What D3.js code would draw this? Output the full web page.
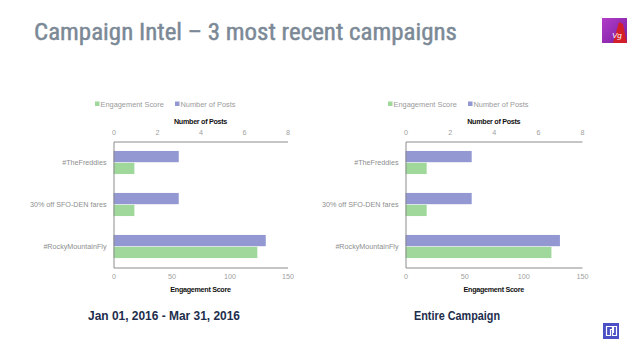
<!DOCTYPE html>
<html>
<head>
<meta charset="utf-8">
<script src="https://cdn.jsdelivr.net/npm/d3@7"></script>
<style>
  html, body { margin: 0; padding: 0; background: #ffffff; }
  svg { display: block; }
</style>
</head>
<body>
<svg id="chart" width="638" height="359"></svg>
<script>
// ---- Data ----
const categories = ["#TheFreddies", "30% off SFO-DEN fares", "#RockyMountainFly"];
const postsLeft = [3, 3, 7];
const engagementLeft = [18, 18, 124];
const postsRight = [3, 3, 7];
const engagementRight = [18, 18, 124];
const postsTicks = [0, 2, 4, 6, 8];
const engagementTicks = [0, 50, 100, 150];
const seriesNames = ["Engagement Score", "Number of Posts"];
const captions = ["Jan 01, 2016 - Mar 31, 2016", "Entire Campaign"];
const titleText = "Campaign Intel \u2013 3 most recent campaigns";

// ---- Styles ----
const BLUE = "#9398d3";
const GREEN = "#a0d89c";
const AXIS = "#8c8c8c";
const LABEL = "#a0a0a0";
const FONT = "'Liberation Sans', Arial, sans-serif";

const svg = d3.select("#chart");

// Title
svg.append("text")
  .attr("x", 34).attr("y", 40)
  .attr("font-family", "'Liberation Sans Narrow', 'Roboto Condensed', 'Liberation Sans', sans-serif")
  .attr("font-size", 24)
  .attr("fill", "#7b8996")
  .attr("stroke", "#7b8996").attr("stroke-width", 0.45)
  .attr("textLength", 423)
  .attr("lengthAdjust", "spacingAndGlyphs")
  .text(titleText);

// Top-right logo (Virgin-like)
const lg = svg.append("defs").append("linearGradient").attr("id", "vg")
  .attr("x1", "0").attr("y1", "0").attr("x2", "1").attr("y2", "1");
lg.append("stop").attr("offset", "0").attr("stop-color", "#b23cc9");
lg.append("stop").attr("offset", "1").attr("stop-color", "#7a1fa0");
svg.append("rect").attr("x", 602).attr("y", 18).attr("width", 25).attr("height", 25).attr("fill", "url(#vg)");
svg.append("path")
  .attr("d", "M613,43 L619,22 L623,24 L627,43 Z")
  .attr("fill", "#d21f2a");
svg.append("text").attr("x", 612).attr("y", 38).attr("font-family", FONT).attr("font-style", "italic")
  .attr("font-size", 8).attr("fill", "#ffffff").text("Vg");

// Bottom-right logo
svg.append("rect").attr("x", 603).attr("y", 323).attr("width", 16).attr("height", 16).attr("fill", "#4b4fc4");
svg.append("path")
  .attr("d", "M606.5,326.5 v9 h4 v-6 h2 v6 h4 v-9 h-3 v6 h-1 v-6 z")
  .attr("fill", "none").attr("stroke", "#ffffff").attr("stroke-width", 1.2);

function panel(opts) {
  const { x0, x1, y0, y1, posts, eng, caption, capX, capW, legX } = opts;
  const g = svg.append("g");

  const xPosts = d3.scaleLinear().domain([0, 8]).range([x0, x1]);
  const xEng = d3.scaleLinear().domain([0, 150]).range([x0, x1]);
  const y = d3.scaleBand().domain(categories).range([y0, y1])
    .paddingInner(0.45).paddingOuter(0.225);
  const ySub = d3.scaleBand().domain(["posts", "eng"]).range([0, y.bandwidth()]).paddingInner(0.05);

  // Bars
  const rows = categories.map((c, i) => ({ c, p: posts[i], e: eng[i] }));
  g.selectAll(".bp").data(rows).enter().append("rect")
    .attr("x", x0).attr("y", d => y(d.c) + ySub("posts"))
    .attr("width", d => xPosts(d.p) - x0).attr("height", ySub.bandwidth())
    .attr("fill", BLUE);
  g.selectAll(".be").data(rows).enter().append("rect")
    .attr("x", x0).attr("y", d => y(d.c) + ySub("eng"))
    .attr("width", d => xEng(d.e) - x0).attr("height", ySub.bandwidth())
    .attr("fill", GREEN);

  // Axes
  const top = g.append("g").attr("transform", `translate(0,${y0})`)
    .call(d3.axisTop(xPosts).tickValues(postsTicks).tickSize(0).tickPadding(7));
  const bot = g.append("g").attr("transform", `translate(0,${y1})`)
    .call(d3.axisBottom(xEng).tickValues(engagementTicks).tickSize(0).tickPadding(6));
  const left = g.append("g").attr("transform", `translate(${x0},0)`)
    .call(d3.axisLeft(y).tickSize(0).tickPadding(7));
  [top, bot, left].forEach(a => {
    a.select(".domain").attr("stroke", AXIS).attr("stroke-width", 1);
    a.selectAll("text").attr("font-family", FONT).attr("font-size", 7.2).attr("fill", LABEL);
  });
  left.selectAll("text").attr("fill", "#8e8e8e");

  // Axis titles
  g.append("text").attr("x", (x0 + x1) / 2).attr("y", 124).attr("text-anchor", "middle")
    .attr("font-family", FONT).attr("font-weight", "bold").attr("font-size", 7.2)
    .attr("letter-spacing", -0.3).attr("fill", "#111").text("Number of Posts");
  g.append("text").attr("x", (x0 + x1) / 2).attr("y", 292).attr("text-anchor", "middle")
    .attr("font-family", FONT).attr("font-weight", "bold").attr("font-size", 7.2)
    .attr("letter-spacing", -0.3).attr("fill", "#111").text("Engagement Score");

  // Legend
  const legColors = [GREEN, BLUE];
  const legOffsets = [0, 80];
  seriesNames.forEach((s, i) => {
    g.append("rect").attr("x", legX + legOffsets[i]).attr("y", 101.5).attr("width", 4.5).attr("height", 4.5)
      .attr("fill", legColors[i]);
    g.append("text").attr("x", legX + legOffsets[i] + 5.5).attr("y", 106.5)
      .attr("font-family", FONT).attr("font-size", 7.4).attr("fill", "#9a9a9a").text(s);
  });

  // Caption
  g.append("text").attr("x", capX).attr("y", 320).attr("text-anchor", "middle")
    .attr("font-family", FONT).attr("font-weight", "bold").attr("font-size", 12.5)
    .attr("textLength", capW).attr("lengthAdjust", "spacingAndGlyphs")
    .attr("fill", "#1d2d4c").text(caption);
}

panel({ x0: 113.5, x1: 287.5, y0: 141.5, y1: 267.5, posts: postsLeft, eng: engagementLeft,
        caption: captions[0], capX: 164, capW: 152, legX: 95 });
panel({ x0: 405.5, x1: 582, y0: 141.5, y1: 267.5, posts: postsRight, eng: engagementRight,
        caption: captions[1], capX: 457, capW: 86, legX: 388 });
</script>
</body>
</html>
